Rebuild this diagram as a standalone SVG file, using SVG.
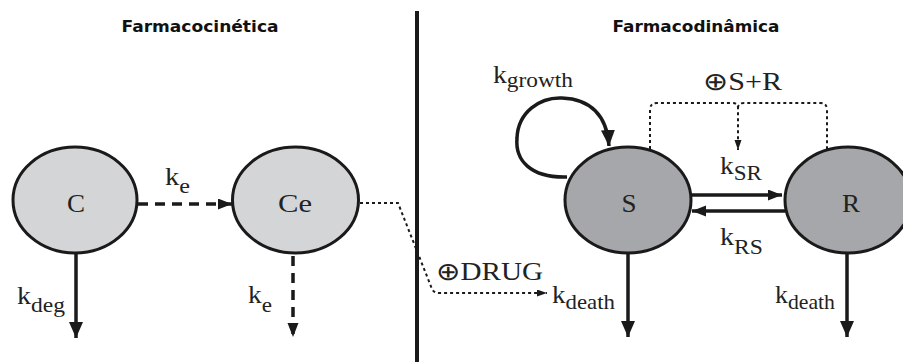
<svg xmlns="http://www.w3.org/2000/svg" width="903" height="362" viewBox="0 0 903 362">
<style>
.title{font-family:"DejaVu Sans",Verdana,sans-serif;font-weight:bold;font-size:15px;fill:#111}
.node{stroke:#1a1a1a;stroke-width:3}
.light{fill:#d4d5d7}
.dark{fill:#a6a7aa}
.solid{stroke:#1a1a1a;stroke-width:3.5;fill:none}
.dash{stroke:#1a1a1a;stroke-width:3.5;fill:none;stroke-dasharray:10 7}
.dot{stroke:#1a1a1a;stroke-width:2;fill:none;stroke-dasharray:3 3}
</style>
<defs>
<marker id="big" markerUnits="userSpaceOnUse" markerWidth="18" markerHeight="14" refX="16" refY="7" orient="auto"><path d="M0,0 L16,7 L0,14 Z" fill="#1a1a1a"/></marker>
<marker id="mid" markerUnits="userSpaceOnUse" markerWidth="16" markerHeight="12" refX="14" refY="5.5" orient="auto"><path d="M0,0 L14,5.5 L0,11 Z" fill="#1a1a1a"/></marker>
<marker id="small" markerUnits="userSpaceOnUse" markerWidth="12" markerHeight="8" refX="10" refY="3.5" orient="auto"><path d="M0,0 L10,3.5 L0,7 Z" fill="#1a1a1a"/></marker>
</defs>
<rect width="903" height="362" fill="#fff"/>
<text class="title" x="200" y="32" text-anchor="middle" textLength="157" lengthAdjust="spacingAndGlyphs">Farmacocinética</text>
<text class="title" x="696" y="32" text-anchor="middle" textLength="167" lengthAdjust="spacingAndGlyphs">Farmacodinâmica</text>
<g id="connectors">
<path class="dash" d="M138 204 L232 204" marker-end="url(#mid)"/>
<path class="solid" d="M76 254 L76 338" marker-end="url(#big)"/>
<path class="dash" d="M293 256 L293 337" marker-end="url(#mid)"/>
<path class="dot" d="M360 203 L398 203 L432 289 Q434 293 439 293 L547 293" marker-end="url(#small)"/>
<path class="solid" d="M628 254 L628 337" marker-end="url(#big)"/>
<path class="solid" d="M847 254 L847 337" marker-end="url(#big)"/>
<path class="solid" d="M691 195 L782 195" stroke-width="3" marker-end="url(#mid)"/>
<path class="solid" d="M785 211 L692 211" stroke-width="3" marker-end="url(#mid)"/>
<path class="solid" d="M567 177 C530 178,515 160,517 138 C518 112,540 97,562 98 C590 99,607 115,609 146" stroke-width="3" marker-end="url(#big)"/>
<path class="dot" d="M650 149 L650 110 Q650 103 657 103 L732 103 Q738 103 738 108 L738 150" marker-end="url(#small)"/>
<path class="dot" d="M738 108 Q738 103 744 103 L820 103 Q827 103 827 110 L827 150"/>
</g>
<line x1="417" y1="11" x2="417" y2="362" stroke="#1a1a1a" stroke-width="4"/>
<g font-family="Liberation Serif, Times New Roman, serif" font-size="25" fill="#222">
<g id="node-C"><ellipse class="node light" cx="75" cy="200" rx="62" ry="53"/><text x="76" y="212" text-anchor="middle" textLength="18" lengthAdjust="spacingAndGlyphs">C</text></g>
<g id="node-Ce"><ellipse class="node light" cx="295.5" cy="200" rx="63" ry="53"/><text x="295" y="212" text-anchor="middle" textLength="34" lengthAdjust="spacingAndGlyphs">Ce</text></g>
<g id="node-S"><ellipse class="node dark" cx="628" cy="200" rx="63" ry="53"/><text x="629" y="212" text-anchor="middle" textLength="15" lengthAdjust="spacingAndGlyphs">S</text></g>
<g id="node-R"><ellipse class="node dark" cx="848" cy="200" rx="63" ry="53"/><text x="851" y="212" text-anchor="middle" textLength="18" lengthAdjust="spacingAndGlyphs">R</text></g>
<g id="labels">
<text x="165" y="185" textLength="25" lengthAdjust="spacingAndGlyphs">k<tspan font-size="21" dy="8">e</tspan></text>
<text x="17" y="304" textLength="48" lengthAdjust="spacingAndGlyphs">k<tspan font-size="21" dy="8">deg</tspan></text>
<text x="248" y="303" textLength="24" lengthAdjust="spacingAndGlyphs">k<tspan font-size="21" dy="9">e</tspan></text>
<text x="436" y="280" textLength="107" lengthAdjust="spacingAndGlyphs">⊕DRUG</text>
<text x="552" y="303" textLength="63" lengthAdjust="spacingAndGlyphs">k<tspan font-size="21" dy="6">death</tspan></text>
<text x="775" y="303" textLength="60" lengthAdjust="spacingAndGlyphs">k<tspan font-size="21" dy="6">death</tspan></text>
<text x="493" y="83" textLength="80" lengthAdjust="spacingAndGlyphs">k<tspan font-size="21" dy="4">growth</tspan></text>
<text x="703" y="90" textLength="79" lengthAdjust="spacingAndGlyphs">⊕S+R</text>
<text x="720" y="174" textLength="42" lengthAdjust="spacingAndGlyphs">k<tspan font-size="21" dy="6">SR</tspan></text>
<text x="720" y="245" textLength="43" lengthAdjust="spacingAndGlyphs">k<tspan font-size="21" dy="9">RS</tspan></text>
</g>
</g>
</svg>
